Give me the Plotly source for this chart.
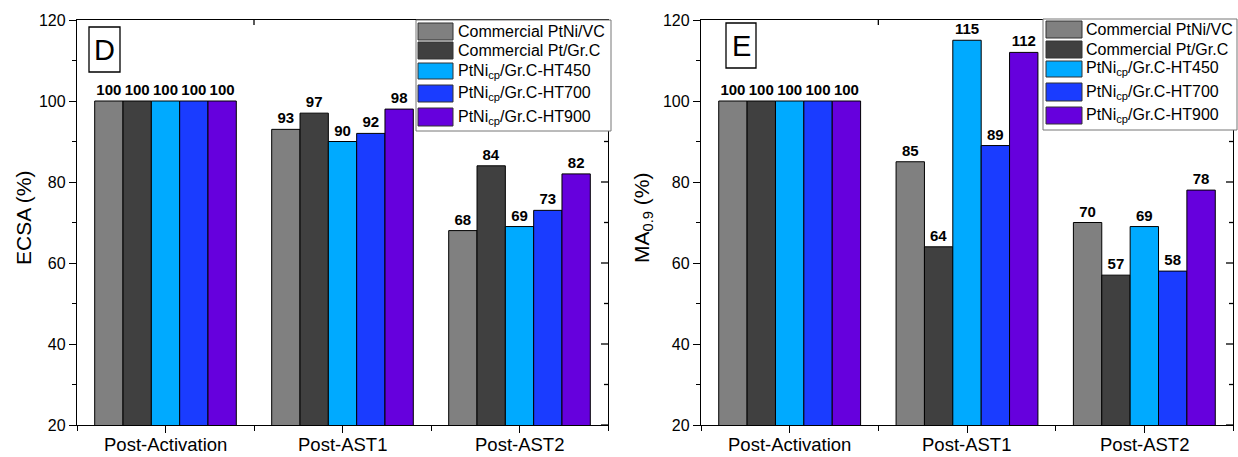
import plotly.graph_objects as go

# ---- data -------------------------------------------------------------
stages = ["Post-Activation", "Post-AST1", "Post-AST2"]
series_names = [
    "Commercial PtNi/VC",
    "Commercial Pt/Gr.C",
    "PtNi<sub>cp</sub>/Gr.C-HT450",
    "PtNi<sub>cp</sub>/Gr.C-HT700",
    "PtNi<sub>cp</sub>/Gr.C-HT900",
]
series_colors = ["#808080", "#404040", "#00AAFF", "#1A3CFF", "#6600DD"]

ecsa_ptni_vc = [100, 93, 68]
ecsa_pt_grc = [100, 97, 84]
ecsa_ht450 = [100, 90, 69]
ecsa_ht700 = [100, 92, 73]
ecsa_ht900 = [100, 98, 82]

ma_ptni_vc = [100, 85, 70]
ma_pt_grc = [100, 64, 57]
ma_ht450 = [100, 115, 69]
ma_ht700 = [100, 89, 58]
ma_ht900 = [100, 112, 78]

ecsa_values = [ecsa_ptni_vc, ecsa_pt_grc, ecsa_ht450, ecsa_ht700, ecsa_ht900]
ma_values = [ma_ptni_vc, ma_pt_grc, ma_ht450, ma_ht700, ma_ht900]

y_ticks = [20, 40, 60, 80, 100, 120]

# ---- layout helpers ---------------------------------------------------
W, H = 1238, 457
FONT = "Liberation Sans, Arial, sans-serif"


def fx(p):
    return p / W


def fy(p):
    return 1 - p / H


PLOT_TOP, PLOT_BOTTOM = 20, 425
panels = [
    dict(xa="x", ya="y", values=ecsa_values, left=77, right=608,
         letter="D", letter_box=(89, 27, 120, 72),
         title="ECSA (%)", title_x=23,
         legend_box=(416, 20, 611, 131), swatch_x=(418, 453), text_x=456,
         rows=[(23, 40), (42, 59), (63, 79), (85, 102), (108, 126)]),
    dict(xa="x2", ya="y2", values=ma_values, left=701, right=1233,
         letter="E", letter_box=(726, 23, 756, 68),
         title="MA<sub>0.9</sub> (%)", title_x=643,
         legend_box=(1043, 19, 1237, 130), swatch_x=(1046, 1082), text_x=1084,
         rows=[(21, 38), (41, 58), (61, 77), (83, 101), (107, 124)]),
]

stage_pos = list(range(len(stages)))

fig = go.Figure()
shapes = []
annotations = []

for p in panels:
    for name, color, vals in zip(series_names, series_colors, p["values"]):
        fig.add_trace(go.Bar(
            x=stage_pos, y=vals, name=name,
            xaxis=p["xa"], yaxis=p["ya"],
            marker=dict(color=color, line=dict(color="black", width=1)),
            text=[f"<b>{v}</b>" for v in vals],
            textposition="outside",
            textfont=dict(family=FONT, size=15, color="black"),
            constraintext="none", cliponaxis=False,
            showlegend=False, hoverinfo="skip",
        ))

    xref_dom = p["xa"] + " domain"
    yref_dom = p["ya"] + " domain"
    pw = p["right"] - p["left"]
    ph = PLOT_BOTTOM - PLOT_TOP

    # category labels under the x axis
    for pos, label in zip(stage_pos, stages):
        annotations.append(dict(text=label, xref=p["xa"], yref="paper",
                                x=pos, y=0, xanchor="center", yanchor="bottom",
                                showarrow=False,
                                font=dict(family=FONT, size=18.5, color="black")))

    # inward ticks on the mirrored right edge
    for v in range(20, 121, 10):
        ln = 7 if v % 20 == 0 else 4
        shapes.append(dict(type="line", xref=xref_dom, yref=p["ya"],
                           x0=1, x1=1 - ln / pw, y0=v, y1=v,
                           line=dict(color="black", width=1.3), layer="above"))
    # inward ticks on the mirrored top edge
    for v in [0.5, 1.5]:
        shapes.append(dict(type="line", xref=p["xa"], yref=yref_dom,
                           x0=v, x1=v, y0=1, y1=1 - 5 / ph,
                           line=dict(color="black", width=1.3), layer="above"))

    # panel letter
    lx0, ly0, lx1, ly1 = p["letter_box"]
    shapes.append(dict(type="rect", xref="paper", yref="paper",
                       x0=fx(lx0), x1=fx(lx1), y0=fy(ly1), y1=fy(ly0),
                       line=dict(color="black", width=1.3), fillcolor="white",
                       layer="above"))
    annotations.append(dict(text=p["letter"], xref="paper", yref="paper",
                            x=fx((lx0 + lx1) / 2), y=fy((ly0 + ly1) / 2),
                            xanchor="center", yanchor="middle", showarrow=False,
                            font=dict(family=FONT, size=29, color="black")))

    # y-axis title
    annotations.append(dict(text=p["title"], xref="paper", yref="paper",
                            x=fx(p["title_x"]), y=fy(218), textangle=-90,
                            xanchor="center", yanchor="middle", showarrow=False,
                            font=dict(family=FONT, size=21, color="black")))

    # legend box
    bx0, by0, bx1, by1 = p["legend_box"]
    shapes.append(dict(type="rect", xref="paper", yref="paper",
                       x0=fx(bx0), x1=fx(bx1), y0=fy(by1), y1=fy(by0),
                       line=dict(color="#777777", width=1), fillcolor="white",
                       layer="above"))
    sx0, sx1 = p["swatch_x"]
    for (ry0, ry1), name, color in zip(p["rows"], series_names, series_colors):
        shapes.append(dict(type="rect", xref="paper", yref="paper",
                           x0=fx(sx0), x1=fx(sx1), y0=fy(ry1), y1=fy(ry0),
                           line=dict(color="#333333", width=1), fillcolor=color,
                           layer="above"))
        annotations.append(dict(text=name, xref="paper", yref="paper",
                                x=fx(p["text_x"]), y=fy((ry0 + ry1) / 2),
                                xanchor="left", yanchor="middle", showarrow=False,
                                font=dict(family=FONT, size=16, color="black")))


def x_axis(p):
    return dict(
        domain=[fx(p["left"]), fx(p["right"])], anchor=p["ya"],
        range=[-0.5, 2.5], tickmode="array", tickvals=stage_pos,
        showticklabels=False,
        ticks="outside", ticklen=7, tickwidth=1.3, tickcolor="black",
        minor=dict(tickmode="array", tickvals=[-0.5, 0.5, 1.5, 2.5],
                   ticks="outside", ticklen=5, tickwidth=1.3, tickcolor="black"),
        showline=True, linecolor="black", linewidth=1.3, mirror=True,
        showgrid=False, zeroline=False, automargin=False, fixedrange=True,
    )


def y_axis(p):
    return dict(
        domain=[fy(PLOT_BOTTOM), fy(PLOT_TOP)], anchor=p["xa"],
        range=[20, 120], tickmode="array", tickvals=y_ticks,
        ticks="outside", ticklen=7, tickwidth=1.3, tickcolor="black",
        minor=dict(tickmode="array", tickvals=[30, 50, 70, 90, 110],
                   ticks="outside", ticklen=4, tickwidth=1.3, tickcolor="black"),
        showline=True, linecolor="black", linewidth=1.3, mirror=True,
        showgrid=False, zeroline=False, automargin=False, fixedrange=True,
        tickfont=dict(family=FONT, size=16, color="black"),
    )


fig.update_layout(
    width=W, height=H,
    margin=dict(l=0, r=0, t=0, b=0),
    template="none",
    paper_bgcolor="white", plot_bgcolor="white",
    barmode="group", bargap=0.2, bargroupgap=0,
    xaxis=x_axis(panels[0]), yaxis=y_axis(panels[0]),
    xaxis2=x_axis(panels[1]), yaxis2=y_axis(panels[1]),
    shapes=shapes, annotations=annotations,
    showlegend=False,
)

fig.write_html("out.html")
